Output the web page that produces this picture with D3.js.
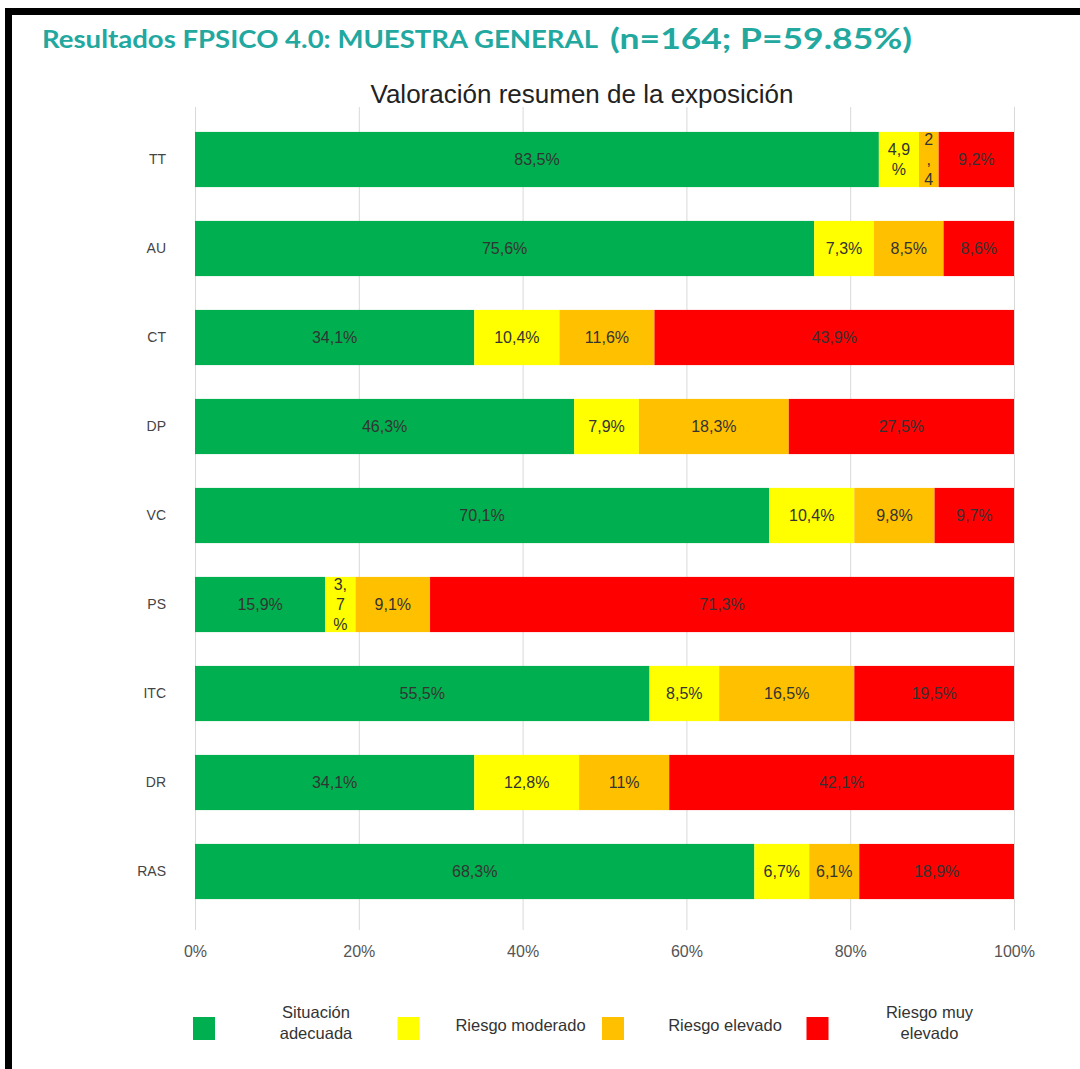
<!DOCTYPE html>
<html>
<head>
<meta charset="utf-8">
<script src="https://cdn.jsdelivr.net/npm/d3@7"></script>
<style>
  body { margin: 0; background: #fff; }
  svg { display: block; }
</style>
</head>
<body>
<div id="vis"></div>
<script>
// data
var categories = ["TT", "AU", "CT", "DP", "VC", "PS", "ITC", "DR", "RAS"];
var seriesNames = ["Situación adecuada", "Riesgo moderado", "Riesgo elevado", "Riesgo muy elevado"];
var adecuada  = [83.5, 75.6, 34.1, 46.3, 70.1, 15.9, 55.5, 34.1, 68.3];
var moderado  = [4.9, 7.3, 10.4, 7.9, 10.4, 3.7, 8.5, 12.8, 6.7];
var elevado   = [2.4, 8.5, 11.6, 18.3, 9.8, 9.1, 16.5, 11, 6.1];
var muyElevado = [9.2, 8.6, 43.9, 27.5, 9.7, 71.3, 19.5, 42.1, 18.9];
var xTicks = [0, 20, 40, 60, 80, 100];
var legendLines = [["Situación", "adecuada"], ["Riesgo moderado"], ["Riesgo elevado"], ["Riesgo muy", "elevado"]];

var colors = ["#00b050", "#ffff00", "#ffc000", "#ff0000"];

var width = 1080, height = 1069;

var svg = d3.select("#vis").append("svg")
    .attr("width", width)
    .attr("height", height);

svg.append("rect").attr("width", width).attr("height", height).attr("fill", "#fff");

// black frame (top + left)
svg.append("rect").attr("x", 5).attr("y", 8).attr("width", width - 5).attr("height", 7).attr("fill", "#000");
svg.append("rect").attr("x", 5).attr("y", 8).attr("width", 7).attr("height", height - 8).attr("fill", "#000");

// header
svg.append("text")
    .attr("x", 42).attr("y", 48)
    .style("font-family", "Lato, 'Open Sans', sans-serif")
    .style("font-weight", "bold")
    .style("font-size", "24px")
    .attr("fill", "#22a89f")
    .attr("textLength", 556)
    .attr("lengthAdjust", "spacingAndGlyphs")
    .text("Resultados FPSICO 4.0: MUESTRA GENERAL");
svg.append("text")
    .attr("x", 610).attr("y", 49)
    .style("font-family", "Lato, 'Open Sans', sans-serif")
    .style("font-weight", "bold")
    .style("font-size", "29px")
    .attr("fill", "#22a89f")
    .attr("textLength", 302)
    .attr("lengthAdjust", "spacingAndGlyphs")
    .text("(n=164; P=59.85%)");

// chart title
svg.append("text")
    .attr("x", 582).attr("y", 103)
    .attr("text-anchor", "middle")
    .style("font-family", "'Liberation Sans', Arial, sans-serif")
    .style("font-size", "26px")
    .attr("fill", "#222")
    .text("Valoración resumen de la exposición");

var x = d3.scaleLinear().domain([0, 100]).range([195, 1014]);
var y = d3.scaleBand().domain(categories).range([115, 916])
    .paddingInner(0.38).paddingOuter(0.19);

// gridlines
var grid = svg.append("g")
    .attr("transform", "translate(0,930)")
    .call(d3.axisBottom(x).tickValues(xTicks).tickSize(-823).tickFormat(""));
grid.select(".domain").remove();
grid.selectAll("line").attr("stroke", "#d9d9d9").attr("stroke-width", 1);

// x tick labels
var xAxis = svg.append("g")
    .attr("transform", "translate(0,943)")
    .call(d3.axisBottom(x).tickValues(xTicks).tickSize(0).tickFormat(function(d) { return d + "%"; }));
xAxis.select(".domain").remove();
xAxis.selectAll("text")
    .style("font-family", "'Liberation Sans', Arial, sans-serif")
    .style("font-size", "16px")
    .attr("fill", "#555");

// y labels
var yAxis = svg.append("g")
    .attr("transform", "translate(169,0)")
    .call(d3.axisLeft(y).tickSize(0));
yAxis.select(".domain").remove();
yAxis.selectAll("text")
    .style("font-family", "'Liberation Sans', Arial, sans-serif")
    .style("font-size", "14px")
    .attr("fill", "#444");

// stacked data
var rows = categories.map(function(c, i) {
  return { cat: c, s0: adecuada[i], s1: moderado[i], s2: elevado[i], s3: muyElevado[i] };
});
var stack = d3.stack().keys(["s0", "s1", "s2", "s3"]);
var series = stack(rows);

var layer = svg.append("g").selectAll("g")
    .data(series)
  .enter().append("g")
    .attr("fill", function(d, i) { return colors[i]; });

layer.selectAll("rect")
    .data(function(d) { return d; })
  .enter().append("rect")
    .attr("x", function(d) { return x(d[0]); })
    .attr("y", function(d) { return y(d.data.cat); })
    .attr("width", function(d) { return x(d[1]) - x(d[0]); })
    .attr("height", y.bandwidth());

// labels, wrapped char by char when the segment is too narrow
var fmt = function(v) { return String(v).replace(".", ",") + "%"; };
var measurer = svg.append("text")
    .style("font-family", "'Liberation Sans', Arial, sans-serif")
    .style("font-size", "16px")
    .attr("visibility", "hidden");
function textWidth(s) { measurer.text(s); return measurer.node().getComputedTextLength(); }

function wrapChars(s, maxW) {
  var lines = [], cur = "";
  for (var k = 0; k < s.length; k++) {
    var t = cur + s[k];
    if (cur !== "" && textWidth(t) > maxW) { lines.push(cur); cur = s[k]; }
    else cur = t;
  }
  if (cur) lines.push(cur);
  return lines.slice(0, 3);
}

series.forEach(function(s, si) {
  s.forEach(function(d) {
    var w = x(d[1]) - x(d[0]);
    var label = fmt(d.data[s.key]);
    var lines = textWidth(label) <= w - 10 ? [label] : wrapChars(label, w - 10);
    var cx = x(d[0]) + w / 2;
    var cy = y(d.data.cat) + y.bandwidth() / 2;
    var lh = 20;
    var t = svg.append("text")
        .attr("text-anchor", "middle")
        .style("font-family", "'Liberation Sans', Arial, sans-serif")
        .style("font-size", "16px")
        .attr("fill", "#333");
    lines.forEach(function(ln, li) {
      t.append("tspan")
        .attr("x", cx)
        .attr("y", cy + 5 + (li - (lines.length - 1) / 2) * lh)
        .text(ln);
    });
  });
});
measurer.remove();

// legend
var legend = svg.append("g").selectAll("g")
    .data(seriesNames)
  .enter().append("g")
    .attr("transform", function(d, i) { return "translate(" + (193 + i * 204.5) + ",1017)"; });

legend.append("rect")
    .attr("width", 22).attr("height", 23)
    .attr("fill", function(d, i) { return colors[i]; });

legend.append("text")
    .attr("text-anchor", "middle")
    .style("font-family", "'Liberation Sans', Arial, sans-serif")
    .style("font-size", "16.5px")
    .attr("fill", "#333")
    .each(function(d, i) {
      var lines = legendLines[i];
      var el = d3.select(this);
      lines.forEach(function(ln, li) {
        el.append("tspan")
          .attr("x", 123)
          .attr("y", 14 + (li - (lines.length - 1) / 2) * 21 - (lines.length > 1 ? 3 : 0))
          .text(ln);
      });
    });
</script>
</body>
</html>
